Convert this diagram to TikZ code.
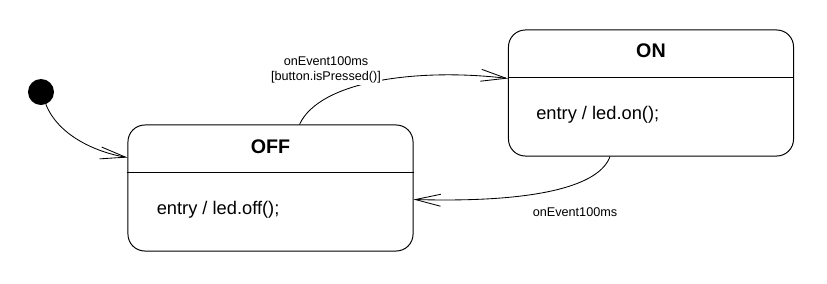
\documentclass[tikz,border=0pt]{standalone}
\usepackage{fontspec}
\setmainfont{Liberation Sans}
\usepackage{tikz}
\usetikzlibrary{
  arrows.meta,
  positioning,
  calc
}
\tikzset{
  % State box: fixed size, rounded
  statebox/.style={
    rectangle, rounded corners=12,
    draw=black, line width=0.7pt, fill=white,
    minimum width=7.125cm, minimum height=3.15cm
  },
  % State name in the top compartment
  stitle/.style={font=\fontsize{14}{16}\selectfont\bfseries, inner sep=0pt},
  % Entry action in the lower compartment
  sentry/.style={font=\fontsize{13}{15}\selectfont, inner sep=0pt, anchor=base west},
  % Initial pseudo state
  initdot/.style={circle, fill=black, minimum size=0.65cm, inner sep=0pt},
  % Transition arrow
  trans/.style={
    -{Straight Barb[length=18pt,width=8.5pt]},
    line width=0.6pt, color=black
  },
  % Transition label
  tlbl/.style={font=\fontsize{9}{10.5}\selectfont, align=center, inner sep=1pt}
}
\begin{document}
\begin{tikzpicture}[x=0.025cm, y=-0.025cm]

  \useasboundingbox (0,0) rectangle (827,283);

  % States
  \node[initdot]  (init) at (41,92) {};
  \node[statebox] (off)  at (270.5,188) {};
  \node[statebox] (on)   at (651,93) {};

  \node[stitle] (offname) at ($(off.north)+(0,22)$) {OFF};
  \node[stitle] (onname)  at ($(on.north)+(0,21)$)  {ON};
  \draw[line width=0.7pt] ($(off.north west)+(0,48)$) -- ($(off.north east)+(0,48)$);
  \draw[line width=0.7pt] ($(on.north west)+(0,48)$)  -- ($(on.north east)+(0,48)$);
  \node[sentry] (offentry) at ($(off.north west)+(29,90)$) {entry / led.off();};
  \node[sentry] (onentry)  at ($(on.north west)+(28,90)$)  {entry / led.on();};

  % Connector end points on the box borders
  \coordinate (offin)  at ($(off.north west)+(0,33)$);
  \coordinate (offtop) at ($(off.north west)+(172,0)$);
  \coordinate (offrt)  at ($(off.north east)+(0,75)$);
  \coordinate (onin)   at ($(on.north west)+(0,49)$);
  \coordinate (onbot)  at ($(on.south west)+(102,0)$);

  % Transitions
  \draw[trans] (init) .. controls (58,135) and (95,152) .. (offin);
  \draw[trans] (offtop) .. controls (320,80) and (420,68) .. (onin);
  \draw[trans] (onbot) .. controls (600,185) and (540,203) .. (offrt);

  \node[tlbl, fill=white] (lblon)  at (326,70)  {onEvent100ms\\{}[button.isPressed()]};
  \node[tlbl]             (lbloff) at (575,212) {onEvent100ms};

\end{tikzpicture}
\end{document}
